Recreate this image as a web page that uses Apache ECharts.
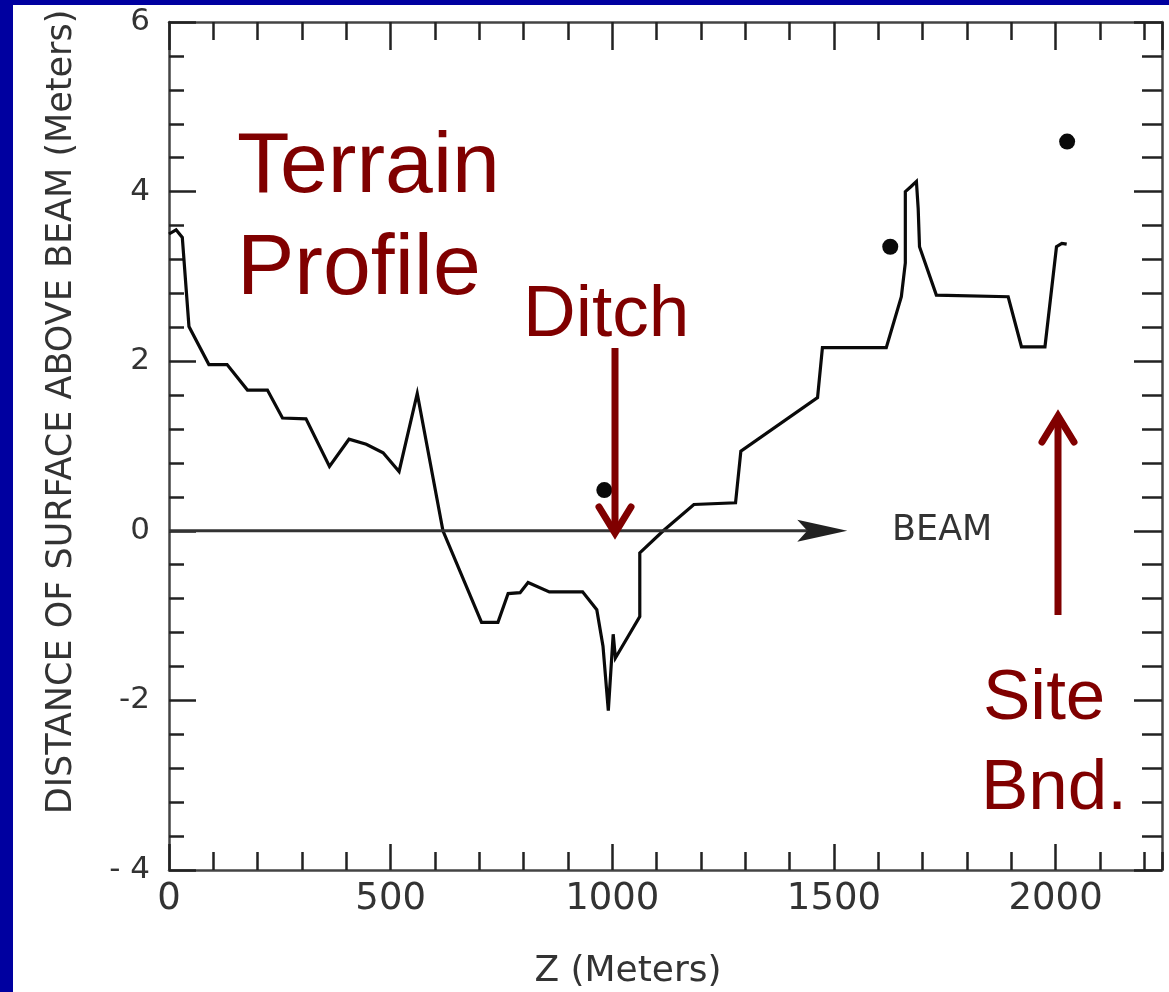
<!DOCTYPE html>
<html><head><meta charset="utf-8">
<script src="https://cdn.jsdelivr.net/npm/echarts@6/dist/echarts.min.js"></script>
<style>html,body{margin:0;padding:0;background:#fff}#c{width:1169px;height:992px}</style>
</head><body><div id="c"></div>
<script>
// Terrain profile (Z in meters, distance above beam in meters)
const terrainZ = [0, 16, 30, 45, 90, 131, 177, 222, 256, 309, 362, 406, 445, 483, 519, 560, 618, 705, 742, 765, 792, 810, 858, 933, 965, 979, 991, 1002, 1007, 1062, 1062, 1115, 1184, 1278, 1290, 1463, 1474, 1618, 1652, 1661, 1661, 1674, 1686, 1690, 1693, 1731, 1893, 1923, 1976, 2002, 2014, 2025];
const terrainV = [3.5, 3.55, 3.46, 2.41, 1.96, 1.96, 1.66, 1.66, 1.33, 1.32, 0.76, 1.08, 1.02, 0.92, 0.70, 1.62, 0.0, -1.08, -1.08, -0.74, -0.73, -0.61, -0.72, -0.72, -0.93, -1.36, -2.12, -1.22, -1.5, -1.01, -0.26, 0.0, 0.31, 0.33, 0.94, 1.57, 2.16, 2.16, 2.76, 3.16, 4.0, 4.06, 4.12, 3.8, 3.35, 2.78, 2.76, 2.17, 2.17, 3.35, 3.39, 3.38];
// Isolated measured points
const pointZ = [982, 1627, 2026];
const pointV = [0.48, 3.35, 4.59];
// Beam line extent
const beamZ = [0, 1530];
const beamV = 0;
// Axis ticks
const xTickValues = [0, 500, 1000, 1500, 2000];
const xTickLabels = ['0', '500', '1000', '1500', '2000'];
const yTickValues = [-4, -2, 0, 2, 4, 6];
const yTickLabels = ['- 4', '-2', '0', '2', '4', '6'];

const X_MIN = 0, X_MAX = 2240, Y_MIN = -4, Y_MAX = 6;
const INK = '#222';
const AX = '#444';
const RED = '#800000';
const TFONT = 'DejaVu Sans';

const chart = echarts.init(document.getElementById('c'), null, {renderer: 'canvas'});

function xAxisDef(pos, interval, len, showLine, showLabel) {
  return {
    type: 'value', position: pos, min: X_MIN, max: X_MAX, interval: interval,
    axisLine: {show: showLine, onZero: false, lineStyle: {color: AX, width: 2.5}},
    axisTick: {show: true, inside: true, length: len, lineStyle: {color: INK, width: 2.5}},
    axisLabel: {
      show: showLabel, margin: 11, showMaxLabel: false,
      fontFamily: TFONT, fontSize: 37, color: '#333',
      formatter: v => { const i = xTickValues.indexOf(v); return i >= 0 ? xTickLabels[i] : ''; }
    },
    splitLine: {show: false}
  };
}
function yAxisDef(pos, majorLen, minorLen, showLabel) {
  return {
    type: 'value', position: pos, min: Y_MIN, max: Y_MAX, interval: 2,
    axisLine: {show: true, onZero: false, lineStyle: {color: AX, width: 2.5}},
    axisTick: {show: true, inside: true, length: majorLen, lineStyle: {color: INK, width: 2.5}},
    minorTick: {show: true, splitNumber: 5, length: minorLen, lineStyle: {color: INK, width: 2.5}},
    axisLabel: {
      show: showLabel, margin: 19, fontFamily: TFONT, fontSize: 31, color: '#333',
      formatter: v => { const i = yTickValues.indexOf(v); return i >= 0 ? yTickLabels[i] : ''; }
    },
    splitLine: {show: false}, minorSplitLine: {show: false}
  };
}

const option = {
  animation: false,
  backgroundColor: '#fff',
  grid: {left: 169, right: 7, top: 22, bottom: 122, outerBoundsMode: 'none'},
  xAxis: [
    xAxisDef('bottom', 500, 26, true, true),
    xAxisDef('bottom', 100, 18, false, false),
    xAxisDef('top', 500, 28, true, false),
    xAxisDef('top', 100, 18, false, false)
  ],
  yAxis: [yAxisDef('left', 27, 15, true), yAxisDef('right', 28, 20, false)],
  series: [
    {
      type: 'line', xAxisIndex: 0, yAxisIndex: 0,
      data: terrainZ.map((z, i) => [z, terrainV[i]]),
      showSymbol: false, symbol: 'none',
      lineStyle: {color: '#0a0a0a', width: 3.2, join: 'miter'}
    },
    {
      type: 'scatter', xAxisIndex: 0, yAxisIndex: 0,
      data: pointZ.map((z, i) => [z, pointV[i]]),
      symbol: 'circle', symbolSize: 16, itemStyle: {color: '#0a0a0a', opacity: 1}
    }
  ]
};
chart.setOption(option);

const p0 = chart.convertToPixel({xAxisIndex: 0, yAxisIndex: 0}, [beamZ[0], beamV]);
const p1 = chart.convertToPixel({xAxisIndex: 0, yAxisIndex: 0}, [beamZ[1], beamV]);
const headL = 50, headW = 11;

chart.setOption({
  graphic: [
    {type: 'rect', shape: {x: 0, y: 0, width: 13, height: 992}, style: {fill: '#0000a0'}, z: 100},
    {type: 'rect', shape: {x: 0, y: 0, width: 1169, height: 5}, style: {fill: '#0000a0'}, z: 100},
    // beam arrow
    {type: 'line', shape: {x1: p0[0], y1: p0[1], x2: p1[0] - headL + 10, y2: p1[1]}, style: {stroke: '#333', lineWidth: 3}, z: 50},
    {type: 'polygon', shape: {points: [[p1[0], p1[1]], [p1[0] - headL, p1[1] - headW], [p1[0] - headL + 10, p1[1]], [p1[0] - headL, p1[1] + headW]]}, style: {fill: '#222'}, z: 50},
    {type: 'text', x: 892, y: 531, style: {text: 'BEAM', font: '35px "DejaVu Sans"', fill: '#333', textAlign: 'left', textVerticalAlign: 'middle'}, z: 50},
    // axis titles
    {type: 'text', x: 62, y: 412, rotation: Math.PI / 2, style: {text: 'DISTANCE OF SURFACE ABOVE BEAM (Meters)', font: '35px "DejaVu Sans"', fill: '#333', textAlign: 'center', textVerticalAlign: 'middle'}, z: 50},
    {type: 'text', x: 628, y: 972, style: {text: 'Z (Meters)', font: '36px "DejaVu Sans"', fill: '#333', textAlign: 'center', textVerticalAlign: 'middle'}, z: 50},
    // annotations
    {type: 'text', x: 237, y: 168, style: {text: 'Terrain', font: '86px "Liberation Sans"', fill: RED, textAlign: 'left', textVerticalAlign: 'middle'}, z: 60},
    {type: 'text', x: 237, y: 270, style: {text: 'Profile', font: '86px "Liberation Sans"', fill: RED, textAlign: 'left', textVerticalAlign: 'middle'}, z: 60},
    {type: 'text', x: 523, y: 316, style: {text: 'Ditch', font: '73px "Liberation Sans"', fill: RED, textAlign: 'left', textVerticalAlign: 'middle'}, z: 60},
    {type: 'text', x: 983, y: 699, style: {text: 'Site', font: '71px "Liberation Sans"', fill: RED, textAlign: 'left', textVerticalAlign: 'middle'}, z: 60},
    {type: 'text', x: 981, y: 789, style: {text: 'Bnd.', font: '71px "Liberation Sans"', fill: RED, textAlign: 'left', textVerticalAlign: 'middle'}, z: 60},
    {type: 'line', shape: {x1: 615, y1: 348, x2: 615, y2: 530}, style: {stroke: RED, lineWidth: 7}, z: 60},
    {type: 'polyline', shape: {points: [[599, 507], [615, 533], [631, 507]]}, style: {stroke: RED, lineWidth: 7, lineCap: 'round', lineJoin: 'miter', fill: null}, z: 60},
    {type: 'line', shape: {x1: 1058, y1: 615, x2: 1058, y2: 418}, style: {stroke: RED, lineWidth: 7}, z: 60},
    {type: 'polyline', shape: {points: [[1042, 442], [1058, 416], [1074, 442]]}, style: {stroke: RED, lineWidth: 7, lineCap: 'round', lineJoin: 'miter', fill: null}, z: 60}
  ]
});
</script></body></html>
